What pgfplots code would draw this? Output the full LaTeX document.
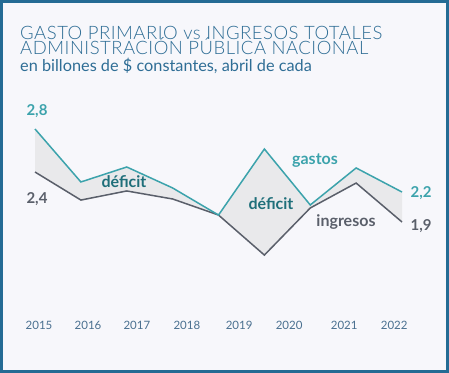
\documentclass[border=0pt]{standalone}
\usepackage{pgfplots}
\pgfplotsset{compat=1.18}
\usepgfplotslibrary{fillbetween}
\usepackage{fontspec}
\setmainfont{Lato}
\newfontfamily\titlefont{Lato Light}[LetterSpace=2.7]
\newcommand\titlestyle{\titlefont\fontsize{18.5bp}{15.7bp}\selectfont\lineskiplimit=-100pt\relax\lineskip=0pt\relax}
\definecolor{framec}{HTML}{246B94}
\definecolor{bgc}{HTML}{F7F7FB}
\definecolor{titlec}{HTML}{2E6D95}
\definecolor{gastosc}{HTML}{3CA3AC}
\definecolor{ingc}{HTML}{5A5F6A}
\definecolor{fillc}{HTML}{E9E9EB}
\definecolor{defc}{HTML}{1F6F7A}
\definecolor{tickc}{HTML}{4A7090}
\definecolor{axisc}{HTML}{E4E6EE}
\pgfplotstableread{
x g i
0 2.800 2.398
1 2.305 2.136
2 2.445 2.221
3 2.249 2.146
4 1.996 1.996
5 2.613 1.622
6 2.090 2.062
7 2.436 2.295
8 2.211 1.931
}\datatable
\begin{document}
\begin{tikzpicture}
\fill[bgc] (0,0) rectangle (449bp,373bp);
\draw[framec, line width=3bp] (1.5bp,1.5bp) rectangle (447.5bp,371.5bp);
\begin{axis}[
  at={(18bp,61bp)}, anchor=south west,
  scale only axis, width=394bp, height=212bp,
  xmin=-0.371, xmax=8.218, ymin=1.09, ymax=3.071,
  clip=false,
  hide y axis,
  axis x line*=bottom,
  x axis line style={draw=axisc, line width=0.7bp},
  xtick={0.087,1.155,2.22,3.31,4.45,5.54,6.74,7.83},
  xticklabels={2015,2016,2017,2018,2019,2020,2021,2022},
  xtick style={draw=none},
  major tick length=0pt,
  xticklabel style={anchor=center, yshift=-13bp, font=\fontsize{11.5bp}{12bp}\selectfont, text=tickc},
]
\addplot[name path=g, draw=none] table[x=x,y=g] {\datatable};
\addplot[name path=i, draw=none] table[x=x,y=i] {\datatable};
\addplot[fill=fillc, draw=none] fill between[of=g and i, on layer=main];
\addplot[ingc, line width=1.5bp, mark=none] table[x=x,y=i] {\datatable};
\addplot[gastosc, line width=1.5bp, mark=none] table[x=x,y=g] {\datatable};
\end{axis}
\node[anchor=base west, text=titlec, align=left, inner sep=0, font=\titlestyle]
  at (20bp,318bp) {GASTO PRIMARIO vs INGRESOS TOTALES\\ADMINISTRACIÓN PÚBLICA NACIONAL};
\node[anchor=base west, text=titlec, font=\fontsize{16.3bp}{16bp}\selectfont, inner sep=0] at (20bp,301.5bp) {en billones de \$ constantes, abril de cada};
\node[text=gastosc, font=\bfseries\fontsize{15bp}{15bp}\selectfont] at (37bp,262bp) {2,8};
\node[text=ingc, font=\bfseries\fontsize{15bp}{15bp}\selectfont] at (37bp,174bp) {2,4};
\node[text=gastosc, font=\bfseries\fontsize{15bp}{15bp}\selectfont] at (421bp,180bp) {2,2};
\node[text=ingc, font=\bfseries\fontsize{15bp}{15bp}\selectfont] at (421bp,147bp) {1,9};
\node[text=defc, font=\bfseries\fontsize{16bp}{16bp}\selectfont] at (124bp,191bp) {déficit};
\node[text=defc, font=\bfseries\fontsize{16bp}{16bp}\selectfont] at (271bp,169bp) {déficit};
\node[text=gastosc, font=\bfseries\fontsize{16bp}{16bp}\selectfont] at (315bp,212bp) {gastos};
\node[text=ingc, font=\bfseries\fontsize{16bp}{16bp}\selectfont] at (346bp,151bp) {ingresos};
\end{tikzpicture}
\end{document}
